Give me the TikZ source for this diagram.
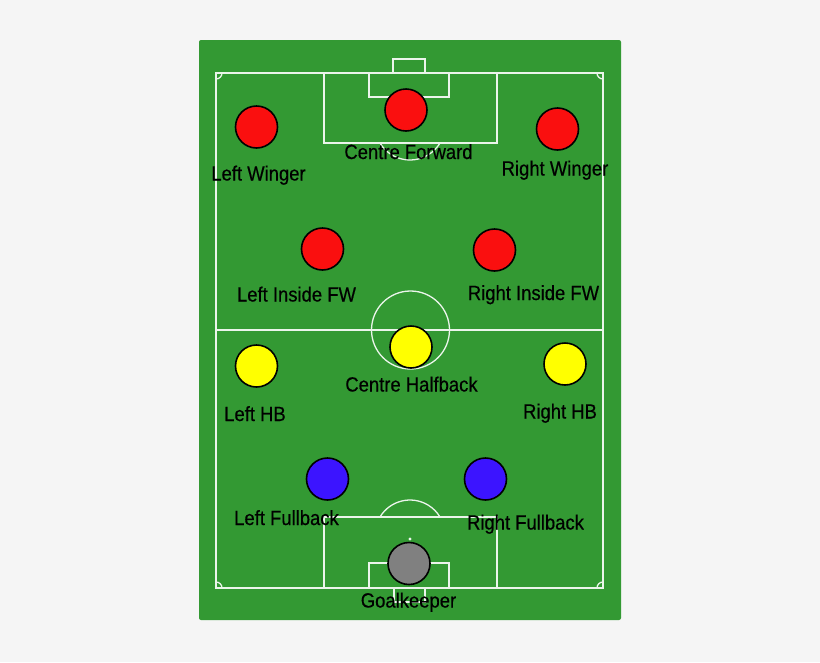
\documentclass[tikz,border=0pt]{standalone}
\usepackage{fontspec}
\setmainfont{Liberation Sans}[FakeStretch=0.9,FakeBold=0.4]
\definecolor{bgc}{RGB}{245,245,245}
\definecolor{pitch}{RGB}{51,153,51}
\definecolor{lines}{RGB}{235,245,235}
\definecolor{pred}{RGB}{250,15,15}
\definecolor{pyel}{RGB}{255,255,0}
\definecolor{pblue}{RGB}{60,20,255}
\definecolor{pgrey}{RGB}{128,128,128}
\tikzset{
  player/.style={circle, draw=black, line width=1.6pt, minimum size=42pt, inner sep=0pt},
  lbl/.style={anchor=base, inner sep=0pt, font=\fontsize{20.5}{22}\selectfont, text=black},
  pline/.style={draw=lines, line width=1.3pt}
}
\begin{document}
\begin{tikzpicture}[x=1pt,y=-1pt]
\useasboundingbox (0,0) rectangle (820,662);
\fill[bgc] (0,0) rectangle (820,662);
\fill[pitch, rounded corners=2pt] (199,40) rectangle (621,620);
% pitch markings
\draw[pline] (216,73) rectangle (603,588);
\draw[pline] (216,330) -- (603,330);
\draw[pline] (410.5,330) circle[radius=39];
% top end
\draw[pline] (324,73) rectangle (497,143);
\draw[pline] (369,73) rectangle (449,97);
\draw[pline] (393,73) -- (393,59) -- (425,59) -- (425,73);
\draw[pline] (380,143) arc[start angle=149, end angle=31, radius=35];
% bottom end
\draw[pline] (324,588) -- (324,517) -- (497,517) -- (497,588);
\draw[pline] (369,588) -- (369,563) -- (449,563) -- (449,588);
\draw[pline] (394,588) -- (394,602) -- (425,602) -- (425,588);
\draw[pline] (380,517) arc[start angle=211, end angle=329, radius=35];
\fill[lines] (410,539) circle[radius=1.6];
% corner arcs
\draw[pline] (222,73) arc[start angle=0, end angle=90, radius=6];
\draw[pline] (597,73) arc[start angle=180, end angle=90, radius=6];
\draw[pline] (222,588) arc[start angle=0, end angle=-90, radius=6];
\draw[pline] (597,588) arc[start angle=180, end angle=270, radius=6];
% players
\node[player, fill=pred] (lw) at (256.5,127) {};
\node[player, fill=pred] (cf) at (406,110) {};
\node[player, fill=pred] (rw) at (557.5,129) {};
\node[player, fill=pred] (lif) at (322.5,249) {};
\node[player, fill=pred] (rif) at (494.5,250) {};
\node[player, fill=pyel] (lhb) at (256.5,366) {};
\node[player, fill=pyel] (chb) at (411,347) {};
\node[player, fill=pyel] (rhb) at (565,364) {};
\node[player, fill=pblue] (lfb) at (327.5,479) {};
\node[player, fill=pblue] (rfb) at (485.5,479) {};
\node[player, fill=pgrey] (gk) at (409,563.5) {};
% labels
\node[lbl] (tlw) at (258.5,180.5) {Left Winger};
\node[lbl] (tcf) at (408.5,159) {Centre Forward};
\node[lbl] (trw) at (555,175.5) {Right Winger};
\node[lbl] (tlif) at (296.5,301.5) {Left Inside FW};
\node[lbl] (trif) at (533.5,300) {Right Inside FW};
\node[lbl] (tchb) at (411.5,391.5) {Centre Halfback};
\node[lbl] (tlhb) at (255,421) {Left HB};
\node[lbl] (trhb) at (560,418.5) {Right HB};
\node[lbl] (tlfb) at (286.5,525) {Left Fullback};
\node[lbl] (trfb) at (525.5,529.5) {Right Fullback};
\node[lbl] (tgk) at (408.5,607.5) {Goalkeeper};
\end{tikzpicture}
\end{document}
